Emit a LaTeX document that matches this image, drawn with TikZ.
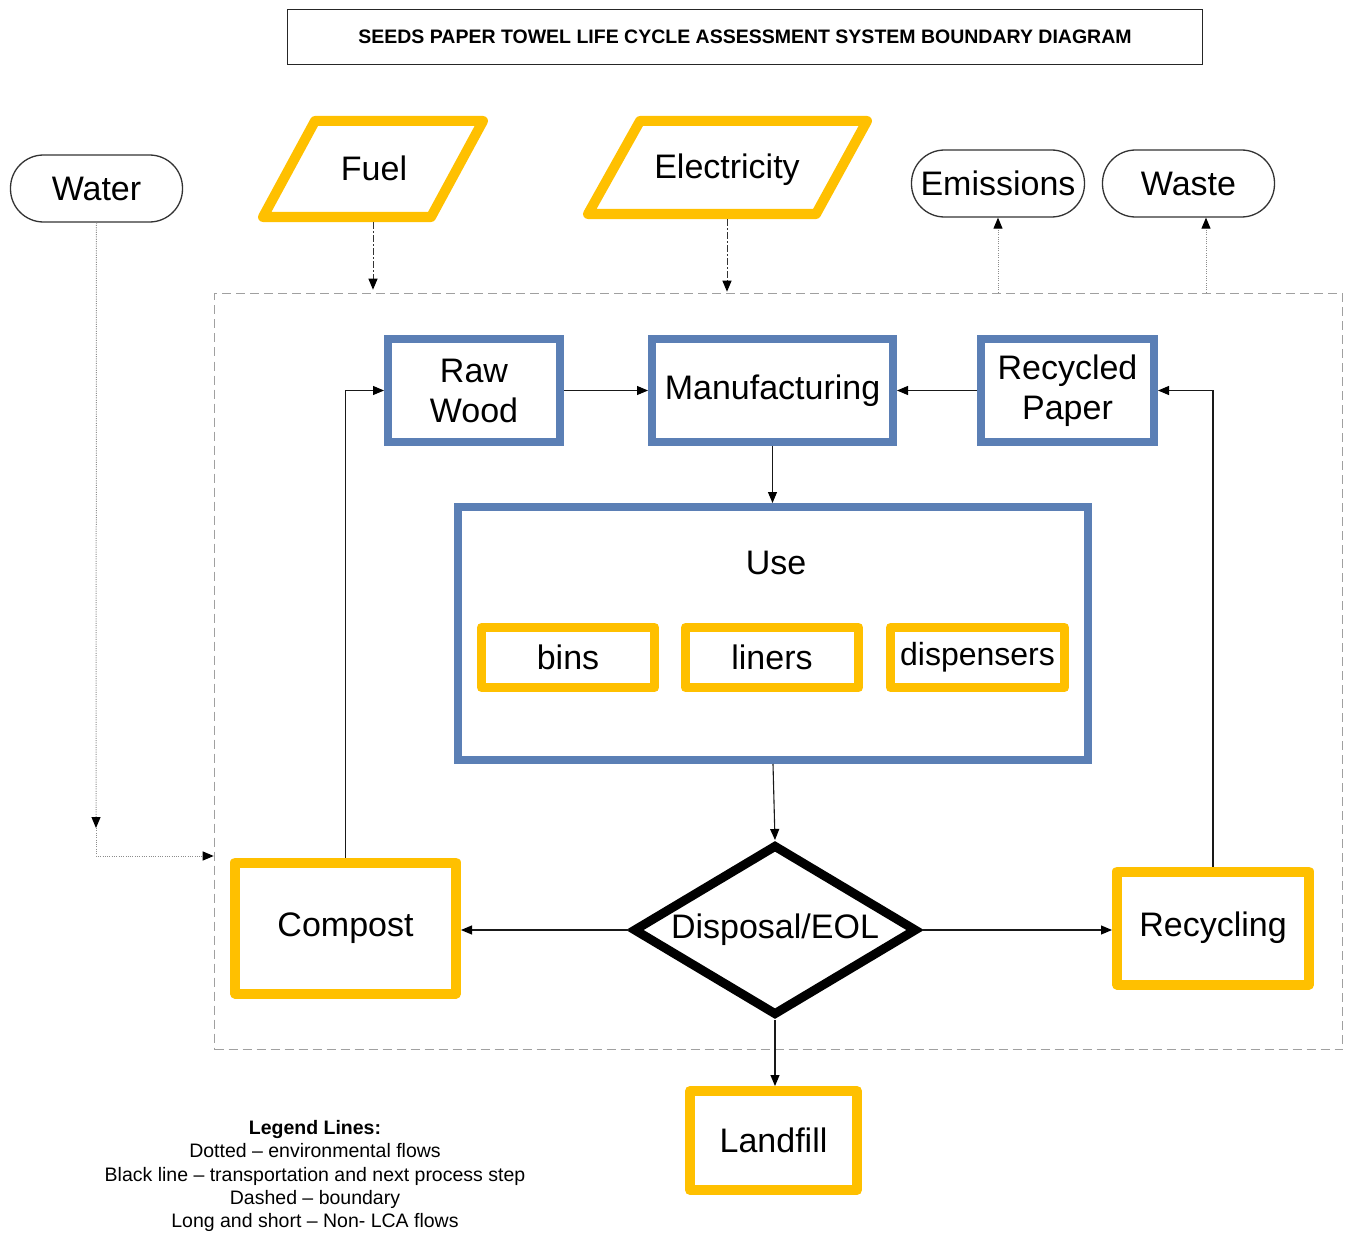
\documentclass[tikz,border=0pt]{standalone}
\usepackage{fontspec}
\setmainfont{Liberation Sans}
\usetikzlibrary{arrows.meta,shapes.geometric,calc}
\definecolor{gold}{HTML}{FFC000}
\definecolor{steel}{HTML}{5B7FB5}
\definecolor{bnd}{HTML}{A0A0A0}
\begin{document}
\begin{tikzpicture}[x=1pt,y=-1pt,
  big/.style={font=\fontsize{34}{40}\selectfont, align=center, inner sep=0pt, text=black},
  bluebox/.style={big, draw=steel, line width=8pt, rectangle},
  goldbox/.style={big, draw=gold, line width=10pt, rectangle, line join=round},
  goldsmall/.style={big, draw=gold, line width=9pt, rectangle, line join=round},
  pill/.style={big, draw=black!80, line width=1.3pt, rounded corners=33pt, minimum height=67pt},
  goldpara/.style={draw=gold, line width=10pt, line join=round},
  tip/.style={-{Triangle[length=11pt,width=9pt,black]}},
  flow/.style={tip, draw=black!90, line width=1.1pt},
  envflow/.style={tip, draw=black!45, line width=1pt, dash pattern=on 1pt off 1.3pt},
  nonlca/.style={tip, draw=black!80, line width=1pt, dash pattern=on 7pt off 2pt on 2pt off 2pt}
]
\fill[white] (0,0) rectangle (1345,1236);
\useasboundingbox (0,0) rectangle (1345,1236);

% title
\node[draw=black!85, line width=1.3pt, minimum width=915pt, minimum height=55pt, inner sep=0pt,
      font=\bfseries\fontsize{19.5}{22}\selectfont] (title) at (745,37)
      {SEEDS PAPER TOWEL LIFE CYCLE ASSESSMENT SYSTEM BOUNDARY DIAGRAM};

% boundary
\node[draw=bnd, line width=1.6pt, dash pattern=on 9pt off 5pt, minimum width=1128pt, minimum height=756pt, inner sep=0pt] (boundary) at (778.5,671.5) {};

% inputs / outputs
\node[pill, minimum width=172pt] (water) at (96.5,188.5) {Water};
\node[pill, minimum width=173pt] (emissions) at (998,183.5) {Emissions};
\node[pill, minimum width=172pt] (waste) at (1188.5,183.5) {Waste};

\draw[goldpara] (315,121) -- (483,121) -- (431,217) -- (263,217) -- cycle;
\node[big] (fuel) at (374,168) {Fuel};
\coordinate (fuelb) at (373,222);
\draw[goldpara] (640,121) -- (867,121) -- (816,214) -- (588,214) -- cycle;
\node[big] (elec) at (727,170) {Electricity};
\coordinate (elecb) at (727,219);

% process boxes
\node[bluebox, minimum width=172pt, minimum height=103pt] (rawwood) at (474,390.5) {Raw\\Wood};
\node[bluebox, minimum width=241pt, minimum height=103pt] (manuf) at (772.5,390.5) {Manufacturing};
\node[bluebox, minimum width=173pt, minimum height=103pt] (recpaper) at (1067.5,390.5) {Recycled\\Paper};
\node[bluebox, minimum width=630pt, minimum height=253pt] (use) at (773,633.5) {};
\node[big] (uselabel) at (776,563) {Use};
\node[goldsmall, minimum width=173pt, minimum height=60pt] (bins) at (568,657.5) {bins};
\node[goldsmall, minimum width=173pt, minimum height=60pt] (liners) at (772,657.5) {liners};
\node[goldsmall, minimum width=174pt, minimum height=60pt, font=\fontsize{32}{38}\selectfont] (disp-ensers) at (977.5,657.5) {dispensers};

\node[diamond, draw=black, line width=9pt, minimum width=284pt, minimum height=171pt, aspect=1.7, big] (disp) at (775,930) {Disposal/EOL};

\node[goldbox, minimum width=221pt, minimum height=131pt] (compost) at (345.5,928) {Compost};
\node[goldbox, minimum width=192pt, minimum height=113pt] (recycling) at (1213,928) {Recycling};
\node[goldbox, minimum width=167pt, minimum height=99pt] (landfill) at (773.5,1140.5) {Landfill};

% legend
\node[font=\fontsize{19.5}{23.4}\selectfont, align=center, inner sep=0pt] (legend) at (315,1176)
 {\textbf{Legend Lines:}\\Dotted -- environmental flows\\Black line -- transportation and next process step\\Dashed -- boundary\\Long and short -- Non- LCA flows};

% non-LCA flows
\draw[nonlca, shorten >=3pt] (fuelb) -- (fuelb |- boundary.north);
\draw[nonlca, shorten >=1pt] (elecb) -- (elecb |- boundary.north);

% environmental flows
\draw[envflow] (emissions.south |- boundary.north) -- (emissions.south);
\coordinate (wx) at (1206,0);
\draw[envflow] (wx |- boundary.north) -- (wx |- waste.south);
\coordinate (wmid) at (96,828);
\coordinate (wbend) at (96,856);
\draw[envflow] (water.south) -- (wmid);
\draw[envflow] (wmid) -- (wbend) -- (wbend -| boundary.west);

% process flows
\draw[flow] (rawwood.east) -- (manuf.west);
\draw[flow] (recpaper.west) -- (manuf.east);
\draw[flow] (manuf.south) -- (manuf.south |- use.north);
\draw[flow] (use.south) -- (disp.north);
\draw[flow] (disp.west) -- (disp.west -| compost.east);
\draw[flow] (disp.east) -- (disp.east -| recycling.west);
\draw[flow] (disp.south) -- (disp.south |- landfill.north);
\draw[flow] (compost.north) |- (rawwood.west);
\draw[flow] (recycling.north) |- (recpaper.east);
\end{tikzpicture}
\end{document}
